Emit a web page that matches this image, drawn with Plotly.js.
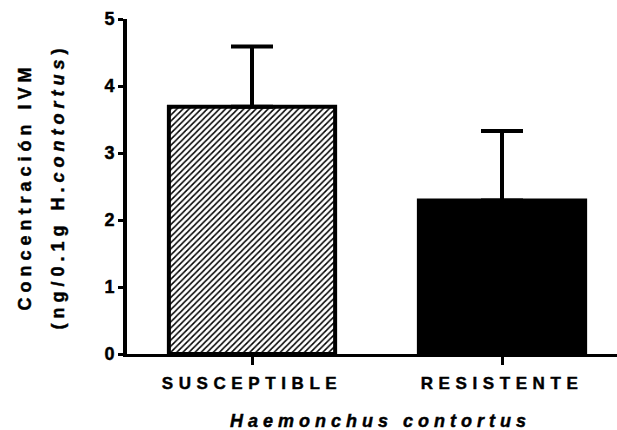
<!DOCTYPE html>
<html>
<head>
<meta charset="utf-8">
<script src="https://cdn.plot.ly/plotly-3.0.1.min.js"></script>
<style>
  html, body { margin: 0; padding: 0; background: #fff; }
  #chart { width: 617px; height: 430px; }
  .main-svg text { font-weight: 700 !important; stroke: #000; stroke-width: 0.45px; }
  .xtick text { letter-spacing: 5.6px; }
  .annotation-text { letter-spacing: 5px; }
</style>
</head>
<body>
<div id="chart"></div>
<script>
const categories = ["SUSCEPTIBLE", "RESISTENTE"];
const meanValues = [3.69, 2.29];
const errorUp = [0.90, 1.04];
const yTickValues = [0, 1, 2, 3, 4, 5];
const xTitle = "Haemonchus contortus";
const yTitleLine1 = "Concentración IVM";
const yTitleLine2 = "(ng/0.1g H.<i>contortus</i>)";

const FONT = "Liberation Sans, Arial, sans-serif";

const barStyles = [
  { color: "white", pattern: { shape: "/", fgcolor: "black", bgcolor: "white", fgopacity: 1, size: 4.3, solidity: 0.35 } },
  { color: "black", pattern: { shape: "" } }
];

const traces = categories.map((cat, i) => ({
  type: "bar",
  x: [cat],
  y: [meanValues[i]],
  width: 0.665,
  marker: {
    color: barStyles[i].color,
    line: { color: "black", width: 4 },
    pattern: barStyles[i].pattern
  },
  error_y: {
    type: "data",
    symmetric: false,
    array: [errorUp[i]],
    arrayminus: [0],
    color: "black",
    thickness: 4,
    width: 21
  },
  hoverinfo: "none"
}));

const layout = {
  width: 617,
  height: 430,
  margin: { l: 127, r: 0, t: 19, b: 76 },
  barmode: "overlay",
  paper_bgcolor: "white",
  plot_bgcolor: "white",
  showlegend: false,
  font: { family: FONT, color: "black", size: 18, weight: 700 },
  xaxis: {
    type: "category",
    categoryorder: "array",
    categoryarray: categories,
    range: [-0.5, 1.46],
    showline: true,
    linecolor: "black",
    linewidth: 3,
    ticks: "outside",
    ticklen: 8,
    tickwidth: 3,
    tickcolor: "black",
    ticklabelstandoff: 4,
    showgrid: false,
    zeroline: false,
    tickfont: { family: FONT, size: 17, weight: 700, color: "black" },
    fixedrange: true
  },
  yaxis: {
    range: [0, 5],
    tickvals: yTickValues,
    ticktext: yTickValues.map(String),
    showline: true,
    linecolor: "black",
    linewidth: 4,
    ticks: "outside",
    ticklen: 5,
    tickwidth: 3,
    tickcolor: "black",
    showgrid: false,
    zeroline: false,
    tickfont: { family: FONT, size: 18, weight: 700, color: "black" },
    fixedrange: true
  },
  annotations: [
    {
      text: xTitle,
      xref: "paper", yref: "paper",
      x: 0.5, y: 0, xanchor: "center", yanchor: "middle",
      xshift: 8, yshift: -67,
      showarrow: false,
      font: { family: FONT, size: 18, weight: 700, style: "italic", color: "black" }
    },
    {
      text: yTitleLine1,
      xref: "paper", yref: "paper",
      x: 0, y: 0.5, xanchor: "center", yanchor: "middle",
      xshift: -103,
      textangle: -90,
      showarrow: false,
      font: { family: FONT, size: 18, weight: 700, color: "black" }
    },
    {
      text: yTitleLine2,
      xref: "paper", yref: "paper",
      x: 0, y: 0.5, xanchor: "center", yanchor: "middle",
      xshift: -70,
      textangle: -90,
      showarrow: false,
      font: { family: FONT, size: 18, weight: 700, color: "black" }
    }
  ]
};

Plotly.newPlot("chart", traces, layout, { displayModeBar: false });
</script>
</body>
</html>
